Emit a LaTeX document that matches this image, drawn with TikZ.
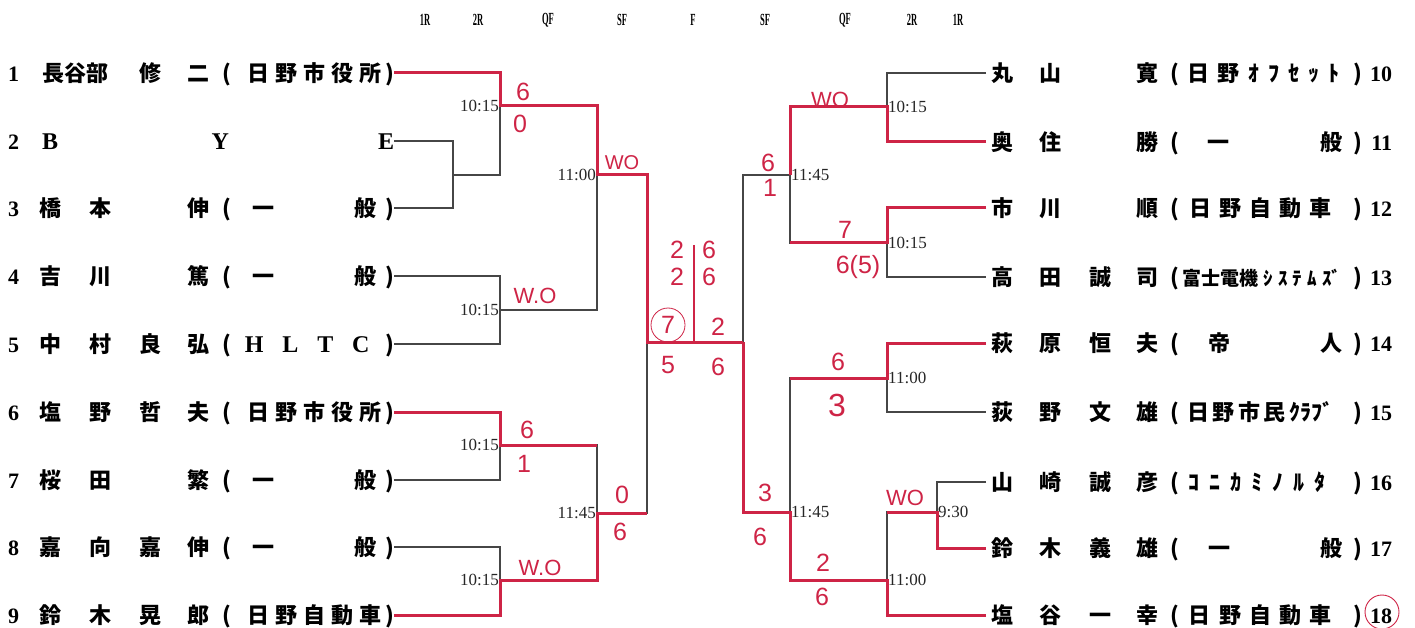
\documentclass[tikz,border=0pt]{standalone}
\usepackage{fontspec}
\newfontfamily\jpfont{Noto Sans CJK JP}
\newfontfamily\serfont{Liberation Serif}
\newfontfamily\handfont{Liberation Sans}
\definecolor{wred}{RGB}{206,36,70}
\definecolor{lgray}{RGB}{70,70,70}
\newcommand{\numf}{\serfont\bfseries\fontsize{22}{22}\selectfont}
\newcommand{\latf}{\serfont\bfseries\fontsize{24}{24}\selectfont}
\newcommand{\affL}[1]{\makebox[172pt][s]{(#1)}}
\newcommand{\affR}[1]{\makebox[192pt][s]{(#1)}}
\newcommand{\lentry}[6]{\makebox[17pt][l]{\numf #1}\makebox[50pt]{#2}\makebox[50pt]{#3}\makebox[50pt]{#4}\makebox[47pt]{#5}\affL{#6}}
\newcommand{\rentry}[6]{\makebox[39pt][l]{\hspace{5pt}#1}\makebox[50pt]{#2}\makebox[50pt]{#3}\makebox[45pt]{#4}\affR{#5}\makebox[30pt][r]{\numf #6}}
\newcommand{\hdr}[1]{\scalebox{0.5}[1]{#1}}
\newcommand{\ippan}{\hspace{22pt}一\hfill 般\hspace{9pt}}
\newcommand{\ippanR}{\hspace{29pt}一\hfill 般\hspace{11pt}}
\tikzset{
  entry/.style={anchor=west, inner sep=0pt, text height=17pt, text depth=0pt,
    font=\jpfont\bfseries\fontsize{22}{22}\selectfont},
  bline/.style={draw=lgray, line width=1.3pt},
  win/.style={draw=wred, line width=3pt},
  timel/.style={font=\serfont\fontsize{17}{17}\selectfont, inner sep=1pt, text=black!85},
  hand/.style={text=wred, inner sep=0pt, font=\handfont\fontsize{25}{25}\selectfont},
  hdrl/.style={font=\serfont\bfseries\fontsize{17}{17}\selectfont, inner sep=0pt},
}
\begin{document}
\begin{tikzpicture}[x=1pt,y=-1pt]
\useasboundingbox (0,0) rectangle (1415,628);
% round labels
\foreach \t/\x [count=\i] in {1R/425,2R/478,QF/548,SF/622,F/693,SF/765,QF/845,2R/912,1R/958}
  \node[hdrl] (h\i) at (\x,20) {\hdr{\t}};
% left players
\node[entry] (p1) at (8,73) {\makebox[17pt][l]{\numf 1}\makebox[100pt]{長谷部}\makebox[50pt]{修}\makebox[47pt]{二}\affL{\hspace{17pt}日\hfill 野\hfill 市\hfill 役\hfill 所\hspace{4pt}}};
\node[entry] (p2) at (8,141) {\makebox[17pt][l]{\numf 2}\makebox[50pt]{\latf B}\makebox[290pt]{\latf Y}\makebox[29pt][r]{\latf E}};
\node[entry] (p3) at (8,208) {\lentry{3}{橋}{本}{}{伸}{\ippan}};
\node[entry] (p4) at (8,276) {\lentry{4}{吉}{川}{}{篤}{\ippan}};
\node[entry] (p5) at (8,344) {\lentry{5}{中}{村}{良}{弘}{\hspace{14pt}{\latf H\hfill L\hfill T\hfill C}\hspace{16pt}}};
\node[entry] (p6) at (8,412) {\lentry{6}{塩}{野}{哲}{夫}{\hspace{17pt}日\hfill 野\hfill 市\hfill 役\hfill 所\hspace{4pt}}};
\node[entry] (p7) at (8,480) {\lentry{7}{桜}{田}{}{繁}{\ippan}};
\node[entry] (p8) at (8,547) {\lentry{8}{嘉}{向}{嘉}{伸}{\ippan}};
\node[entry] (p9) at (8,615) {\lentry{9}{鈴}{木}{晃}{郎}{\hspace{17pt}日\hfill 野\hfill 自\hfill 動\hfill 車\hspace{4pt}}};
% right players
\node[entry] (r10) at (986,73) {\rentry{丸}{山}{}{寛}{\hspace{8pt}日\hfill 野\hfill ｵ\hfill ﾌ\hfill ｾ\hfill ｯ\hfill ﾄ\hspace{14pt}}{10}};
\node[entry] (r11) at (986,142) {\rentry{奥}{住}{}{勝}{\ippanR}{11}};
\node[entry] (r12) at (986,208) {\rentry{市}{川}{}{順}{\hspace{10pt}日\hfill 野\hfill 自\hfill 動\hfill 車\hspace{22pt}}{12}};
\node[entry] (r13) at (986,277) {\rentry{高}{田}{誠}{司}{\hspace{3pt}{\fontsize{19}{19}\selectfont 富士電機\hfill ｼ\hfill ｽ\hfill ﾃ\hfill ﾑ\hfill ｽﾞ}\hspace{12pt}}{13}};
\node[entry] (r14) at (986,343) {\rentry{萩}{原}{恒}{夫}{\hspace{29pt}帝\hfill 人\hspace{11pt}}{14}};
\node[entry] (r15) at (986,412) {\rentry{荻}{野}{文}{雄}{\hspace{8pt}日\hfill 野\hfill 市\hfill 民\hfill ｸﾗﾌﾞ\hspace{20pt}}{15}};
\node[entry] (r16) at (986,482) {\rentry{山}{崎}{誠}{彦}{\hspace{10pt}ｺ\hfill ﾆ\hfill ｶ\hfill ﾐ\hfill ﾉ\hfill ﾙ\hfill ﾀ\hspace{28pt}}{16}};
\node[entry] (r17) at (986,548) {\rentry{鈴}{木}{義}{雄}{\ippanR}{17}};
\node[entry] (r18) at (986,615) {\rentry{塩}{谷}{一}{幸}{\hspace{10pt}日\hfill 野\hfill 自\hfill 動\hfill 車\hspace{22pt}}{18}};
% bracket corners
\coordinate (a23) at (453,175);
\coordinate (m1) at (500,106);
\coordinate (m45) at (500,310);
\coordinate (m67) at (500,445);
\coordinate (m89) at (500,580);
\coordinate (q1) at (597,175);
\coordinate (q2) at (597,513);
\coordinate (s1) at (647,342);
\coordinate (m1011) at (887,107);
\coordinate (m1213) at (887,243);
\coordinate (m1415) at (887,378);
\coordinate (a1617) at (937,512);
\coordinate (m18) at (887,580);
\coordinate (q3) at (790,175);
\coordinate (q4) at (790,512);
\coordinate (s2) at (743,342);
% draw
\draw[bline] (p2.east) -| (a23) |- (p3.east);
\draw[bline] (p1.east) -| (m1) |- (a23);
\draw[bline] (p4.east) -| (m45) |- (p5.east);
\draw[bline] (p6.east) -| (m67) |- (p7.east);
\draw[bline] (p8.east) -| (m89) |- (p9.east);
\draw[bline] (m1) -| (q1) |- (m45);
\draw[bline] (m67) -| (q2) |- (m89);
\draw[bline] (q1) -| (s1) |- (q2);
\draw[bline] (s1) -- (s2);
\draw[bline] (r10.west) -| (m1011) |- (r11.west);
\draw[bline] (r12.west) -| (m1213) |- (r13.west);
\draw[bline] (r14.west) -| (m1415) |- (r15.west);
\draw[bline] (r16.west) -| (a1617) |- (r17.west);
\draw[bline] (a1617) -| (m18) |- (r18.west);
\draw[bline] (m1011) -| (q3) |- (m1213);
\draw[bline] (m1415) -| (q4) |- (m18);
\draw[bline] (q3) -| (s2) |- (q4);
% winners
\draw[win] (p1.east) -| (m1) -| (q1) -| (s1) -- (s2);
\draw[win] (p6.east) -| (m67) -- (m67 -| q2);
\draw[win] (p9.east) -| (m89) -| (q2) -- (q2 -| s1);
\draw[win] (r11.west) -| (m1011) -| (q3);
\draw[win] (r12.west) -| (m1213) -- (m1213 -| q3);
\draw[win] (r14.west) -| (m1415) -- (m1415 -| q4);
\draw[win] (r17.west) -| (a1617) -- (a1617 -| m18);
\draw[win] (r18.west) -| (m18) -| (q4) -| (s2);
% times
\foreach \c/\t [count=\i] in {m1/10:15,m45/10:15,m67/10:15,m89/10:15,q1/11:00,q2/11:45}
  \node[timel, anchor=east] (tl\i) at (\c) {\t};
\foreach \c/\t [count=\i] in {m1011/10:15,m1213/10:15,m1415/11:00,a1617/9:30,m18/11:00,q3/11:45,q4/11:45}
  \node[timel, anchor=west] (tr\i) at (\c) {\t};
% scores
\node[hand] (sc1) at (523,92) {6};
\node[hand] (sc2) at (520,124) {0};
\node[hand, font=\handfont\fontsize{20}{20}\selectfont] (sc3) at (622,163) {WO};
\node[hand, font=\handfont\fontsize{22}{22}\selectfont] (sc4) at (535,296) {W.O};
\node[hand] (sc5) at (527,430) {6};
\node[hand] (sc6) at (524,464) {1};
\node[hand] (sc7) at (622,495) {0};
\node[hand] (sc8) at (620,532) {6};
\node[hand, font=\handfont\fontsize{22}{22}\selectfont] (sc9) at (540,568) {W.O};
\node[hand] (sc10) at (677,250) {2};
\node[hand] (sc11) at (677,277) {2};
\node[hand, draw=wred, circle, minimum size=34pt, line width=0.8pt] (sc12) at (668,325) {7};
\node[hand] (sc13) at (709,250) {6};
\node[hand] (sc14) at (709,277) {6};
\node[hand] (sc15) at (718,327) {2};
\node[hand] (sc16) at (668,365) {5};
\node[hand] (sc17) at (718,367) {6};
\node[hand] (sc18) at (768,163) {6};
\node[hand] (sc19) at (770,188) {1};
\node[hand, font=\handfont\fontsize{22}{22}\selectfont] (sc20) at (830,100) {WO};
\node[hand] (sc21) at (845,230) {7};
\node[hand] (sc22) at (858,267) {6(5)};
\node[hand] (sc23) at (838,362) {6};
\node[hand, font=\handfont\fontsize{32}{32}\selectfont] (sc24) at (837,405) {3};
\node[hand] (sc25) at (765,493) {3};
\node[hand] (sc26) at (760,537) {6};
\node[hand, font=\handfont\fontsize{22}{22}\selectfont] (sc27) at (905,498) {WO};
\node[hand] (sc28) at (823,563) {2};
\node[hand] (sc29) at (822,597) {6};
\node[draw=wred, circle, minimum size=34pt, line width=0.9pt] (c18) at (1382,612) {};
\coordinate (dv) at (694,245);
\draw[wred, line width=1.6pt] (dv) -- (dv |- s1);
\end{tikzpicture}
\end{document}
